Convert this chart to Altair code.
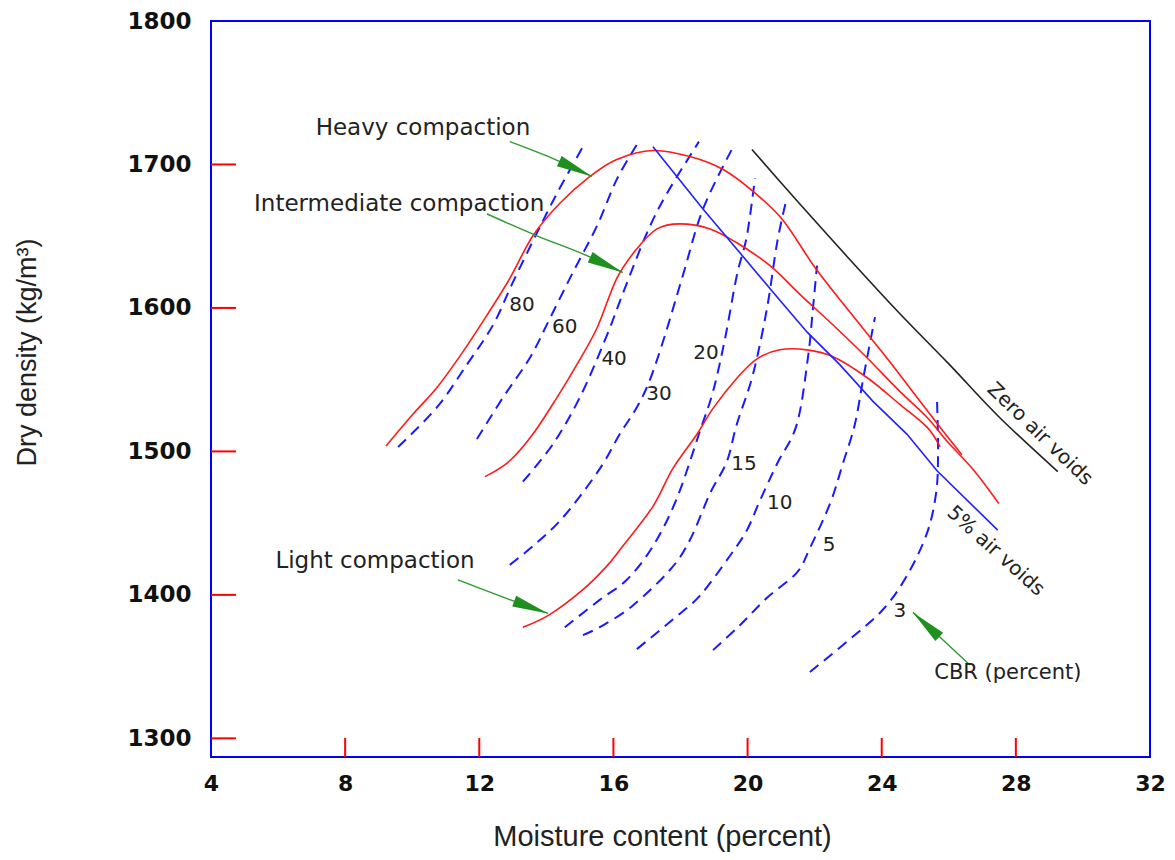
import altair as alt
import pandas as pd

# ---------- compaction curves (moisture %, dry density kg/m3) ----------
heavy_w = [9.22, 10.02, 10.74, 11.51, 12.23, 12.91, 13.60, 14.41, 15.30, 16.10, 17.18,
           18.28, 19.27, 20.16, 21.05, 22.01, 23.05, 24.24, 25.05, 25.74, 26.39]
heavy_d = [1503.8, 1525.9, 1544.6, 1569.4, 1595.0, 1620.6, 1650.3, 1673.1, 1691.7, 1703.5, 1709.7,
           1705.5, 1696.5, 1681.3, 1661.3, 1628.2, 1597.1, 1562.5, 1537.7, 1516.9, 1497.6]

inter_w = [12.17, 12.91, 13.60, 14.32, 14.91, 15.51, 16.10, 16.70, 17.30, 17.98, 18.88,
           19.68, 20.67, 21.56, 22.55, 23.56, 24.54, 25.35, 25.94, 26.78, 27.49]
inter_d = [1482.4, 1493.5, 1512.1, 1537.7, 1560.5, 1586.0, 1620.6, 1641.3, 1655.1, 1658.6, 1655.1,
           1645.4, 1629.5, 1609.5, 1588.1, 1565.3, 1541.8, 1523.8, 1507.3, 1485.9, 1463.7]

light_w = [13.30, 14.11, 15.09, 15.81, 16.28, 17.18, 17.77, 18.49, 18.97, 19.68, 20.28,
           20.96, 21.77, 22.55, 23.56, 24.54, 25.35, 25.74]
light_d = [1377.4, 1386.4, 1403.6, 1420.2, 1434.0, 1461.7, 1488.0, 1512.0, 1530.0, 1551.0, 1564.5,
           1570.8, 1570.8, 1566.0, 1551.5, 1532.8, 1516.9, 1503.1]

# ---------- air-void lines ----------
zav_w = [20.13, 21.5, 23.0, 24.5, 26.0, 27.5, 29.25]
zav_d = [1710.4, 1674.0, 1635.0, 1597.0, 1561.0, 1524.0, 1485.9]

av5_w = [17.18, 18.67, 19.77, 20.76, 21.77, 22.75, 23.74, 24.75, 25.65, 27.46]
av5_d = [1712.4, 1668.9, 1638.5, 1610.9, 1583.3, 1560.5, 1534.9, 1512.1, 1486.5, 1445.1]

# ---------- CBR contours ----------
cbr80_w = [9.58, 10.74, 11.63, 12.41, 13.00, 13.72, 14.32, 15.09]
cbr80_d = [1503.1, 1530.8, 1560.5, 1588.1, 1617.8, 1652.3, 1680.0, 1712.4]
cbr60_w = [11.93, 12.71, 13.51, 14.11, 14.79, 15.51, 16.10, 16.70]
cbr60_d = [1508.6, 1537.7, 1565.3, 1592.9, 1624.7, 1657.2, 1689.6, 1713.8]
cbr40_w = [13.30, 14.20, 15.00, 15.75, 16.34, 17.00, 17.60, 18.55]
cbr40_d = [1478.9, 1505.2, 1537.7, 1577.7, 1613.6, 1652.3, 1680.0, 1715.9]
cbr30_w = [12.91, 13.60, 14.32, 15.00, 15.69, 16.19, 16.70, 17.09, 17.54, 18.07, 18.67, 19.53]
cbr30_d = [1420.9, 1434.0, 1449.5, 1468.6, 1491.4, 1512.1, 1530.8, 1550.0, 1581.2, 1622.6, 1668.9, 1710.4]
cbr20_w = [14.55, 15.60, 16.40, 17.18, 17.89, 18.58, 18.97, 19.32, 19.68, 19.98, 20.22]
cbr20_d = [1377.4, 1396.7, 1410.5, 1434.0, 1467.2, 1514.2, 1541.8, 1577.7, 1622.6, 1650.3, 1690.3]
cbr15_w = [15.09, 15.69, 16.58, 17.69, 18.28, 18.88, 19.38, 19.68, 20.16, 20.58, 20.88, 21.14]
cbr15_d = [1371.9, 1378.8, 1392.6, 1417.5, 1438.2, 1470.7, 1492.8, 1519.0, 1553.6, 1599.8, 1645.4, 1673.7]
cbr10_w = [16.70, 17.77, 18.58, 19.47, 19.98, 20.37, 20.88, 21.47, 21.80, 21.95, 22.07]
cbr10_d = [1362.2, 1382.9, 1399.5, 1427.1, 1445.1, 1465.8, 1491.4, 1519.0, 1565.3, 1599.8, 1629.5]
cbr5_w = [18.97, 19.77, 20.58, 21.47, 21.86, 22.46, 22.84, 23.20, 23.47, 23.80]
cbr5_d = [1361.5, 1378.8, 1398.0, 1415.5, 1432.7, 1463.7, 1491.4, 1519.0, 1553.6, 1593.6]
cbr3_w = [21.86, 23.05, 24.04, 24.75, 25.35, 25.62, 25.68, 25.65]
cbr3_d = [1346.3, 1369.1, 1389.8, 1413.3, 1443.0, 1470.7, 1498.3, 1534.9]

cbr_labels = ["80", "60", "40", "30", "20", "15", "10", "5", "3"]
cbr_label_w = [13.27, 14.55, 16.02, 17.36, 18.76, 19.89, 20.96, 22.43, 24.54]
cbr_label_d = [1601.9, 1586.7, 1564.6, 1539.7, 1568.7, 1491.4, 1463.7, 1434.7, 1389.1]

# ---------- annotations ----------
note_text = ["Heavy compaction", "Intermediate compaction", "Light compaction"]
note_w = [10.32, 9.61, 8.89]
note_d = [1720.7, 1667.5, 1418.8]

cbr_note_text = ["CBR (percent)"]
cbr_note_w = [27.76]
cbr_note_d = [1341.5]

void_text = ["Zero air voids", "5% air voids"]
void_w = [28.72, 27.40]
void_d = [1512.1, 1430.6]
void_angle = [44, 42]

arrow_heavy_w = [12.91, 14.20, 15.36]
arrow_heavy_d = [1715.9, 1704.1, 1691.7]
arrow_inter_w = [12.23, 13.72, 15.21, 16.28]
arrow_inter_d = [1665.5, 1650.3, 1636.4, 1624.7]
arrow_light_w = [11.36, 12.91, 14.05]
arrow_light_d = [1410.5, 1396.7, 1387.1]
arrow_cbr_w = [26.63, 25.74, 24.93]
arrow_cbr_d = [1351.1, 1370.5, 1387.8]
arrow_angle = [25, 25, 20, 223]

x_ticks = [4, 8, 12, 16, 20, 24, 28, 32]
y_ticks = [1300, 1400, 1500, 1600, 1700, 1800]
x_inner_ticks = [8, 12, 16, 20, 24, 28]
y_inner_ticks = [1300, 1400, 1500, 1600, 1700]


def seq(name, ws, ds):
    return pd.DataFrame({"series": name, "w": ws, "d": ds, "i": list(range(len(ws)))})


W, H = 939, 736

X = alt.X(
    "w:Q",
    scale=alt.Scale(domain=[4, 32], nice=False, zero=False),
    axis=alt.Axis(
        values=x_ticks, format="d", title="Moisture content (percent)",
        grid=False, ticks=False, tickSize=0, domain=False,
        labelFlush=False, labelOverlap=False,
        labelFont="DejaVu Sans", labelFontWeight="bold", labelFontSize=22,
        labelColor="#111111", labelPadding=26, labelBaseline="middle",
        titleFont="Liberation Sans", titleFontSize=29, titleFontWeight="normal",
        titleColor="#222222", titleX=451, titleY=88, titleAlign="center",
        titleBaseline="alphabetic",
    ),
)
Y = alt.Y(
    "d:Q",
    scale=alt.Scale(domain=[1287, 1800], nice=False, zero=False),
    axis=alt.Axis(
        values=y_ticks, format="d", title="Dry density (kg/m³)",
        grid=False, ticks=False, tickSize=0, domain=False,
        labelFlush=False, labelOverlap=False,
        labelFont="DejaVu Sans", labelFontWeight="bold", labelFontSize=23,
        labelColor="#111111", labelPadding=20,
        titleFont="Liberation Sans", titleFontSize=27, titleFontWeight="normal",
        titleColor="#222222", titleAngle=270, titleX=-184, titleY=331,
        titleAlign="center", titleBaseline="middle",
    ),
)

# inward red ticks
xt = alt.Chart(pd.DataFrame({"w": x_inner_ticks})).mark_rule(color="#ff0000", strokeWidth=2).encode(
    x=X, y=alt.value(H), y2=alt.value(H - 19))
yt = alt.Chart(pd.DataFrame({"d": y_inner_ticks})).mark_rule(color="#ff0000", strokeWidth=2).encode(
    y=Y, x=alt.value(0), x2=alt.value(25))

cbr_df = pd.concat([
    seq("80", cbr80_w, cbr80_d), seq("60", cbr60_w, cbr60_d), seq("40", cbr40_w, cbr40_d),
    seq("30", cbr30_w, cbr30_d), seq("20", cbr20_w, cbr20_d), seq("15", cbr15_w, cbr15_d),
    seq("10", cbr10_w, cbr10_d), seq("5", cbr5_w, cbr5_d), seq("3", cbr3_w, cbr3_d),
])
cbr_lines = alt.Chart(cbr_df).mark_line(
    color="#1a1aff", strokeWidth=2, strokeDash=[11, 7], interpolate="cardinal"
).encode(x=X, y=Y, detail="series:N", order="i:Q")

comp_df = pd.concat([
    seq("Heavy", heavy_w, heavy_d), seq("Intermediate", inter_w, inter_d), seq("Light", light_w, light_d)
])
comp_lines = alt.Chart(comp_df).mark_line(
    color="#ff1a1a", strokeWidth=1.6, interpolate="cardinal"
).encode(x=X, y=Y, detail="series:N", order="i:Q")

zav_line = alt.Chart(seq("Zero air voids", zav_w, zav_d)).mark_line(
    color="#222222", strokeWidth=1.6, interpolate="cardinal"
).encode(x=X, y=Y, order="i:Q")

av5_line = alt.Chart(seq("5% air voids", av5_w, av5_d)).mark_line(
    color="#2020ff", strokeWidth=1.6
).encode(x=X, y=Y, order="i:Q")

arrow_df = pd.concat([
    seq("a1", arrow_heavy_w, arrow_heavy_d), seq("a2", arrow_inter_w, arrow_inter_d),
    seq("a3", arrow_light_w, arrow_light_d), seq("a4", arrow_cbr_w, arrow_cbr_d),
])
arrow_lines = alt.Chart(arrow_df).mark_line(
    color="#2e9a2e", strokeWidth=1.4, interpolate="monotone"
).encode(x=X, y=Y, detail="series:N", order="i:Q")

tips = pd.DataFrame({
    "w": [arrow_heavy_w[-1], arrow_inter_w[-1], arrow_light_w[-1], arrow_cbr_w[-1]],
    "d": [arrow_heavy_d[-1], arrow_inter_d[-1], arrow_light_d[-1], arrow_cbr_d[-1]],
    "ang": arrow_angle,
})
arrow_heads = alt.Chart(tips).mark_point(
    shape="M-2.4,-0.38L0,0L-2.4,0.38Z", filled=True, size=900, color="#1f8f1f", opacity=1, strokeWidth=0
).encode(x=X, y=Y, angle=alt.Angle("ang:Q", scale=None))

cbr_text = alt.Chart(pd.DataFrame({"w": cbr_label_w, "d": cbr_label_d, "t": cbr_labels})).mark_text(
    font="DejaVu Sans", fontSize=20, color="#222222", align="center", baseline="middle"
).encode(x=X, y=Y, text="t:N")

note_layer = alt.Chart(pd.DataFrame({"w": note_w, "d": note_d, "t": note_text})).mark_text(
    font="DejaVu Sans", fontSize=23, color="#222222", align="center", baseline="alphabetic"
).encode(x=X, y=Y, text="t:N")

cbr_note = alt.Chart(pd.DataFrame({"w": cbr_note_w, "d": cbr_note_d, "t": cbr_note_text})).mark_text(
    font="DejaVu Sans", fontSize=21, color="#222222", align="center", baseline="alphabetic"
).encode(x=X, y=Y, text="t:N")

void_layer = alt.Chart(pd.DataFrame({"w": void_w, "d": void_d, "t": void_text, "a": void_angle})).mark_text(
    font="DejaVu Sans", fontSize=20, color="#222222", align="center", baseline="middle"
).encode(x=X, y=Y, text="t:N", angle=alt.Angle("a:Q", scale=None))

chart = alt.layer(
    xt, yt, cbr_lines, comp_lines, zav_line, av5_line, arrow_lines, arrow_heads,
    cbr_text, note_layer, cbr_note, void_layer,
).properties(
    width=W, height=H,
    autosize=alt.AutoSizeParams(type="none"),
    padding={"left": 211, "top": 21, "right": 25, "bottom": 103},
    background="white",
).configure_view(stroke="#0000ff", strokeWidth=2)

chart.save("out.html", embed_options={"renderer": "svg", "actions": False})
